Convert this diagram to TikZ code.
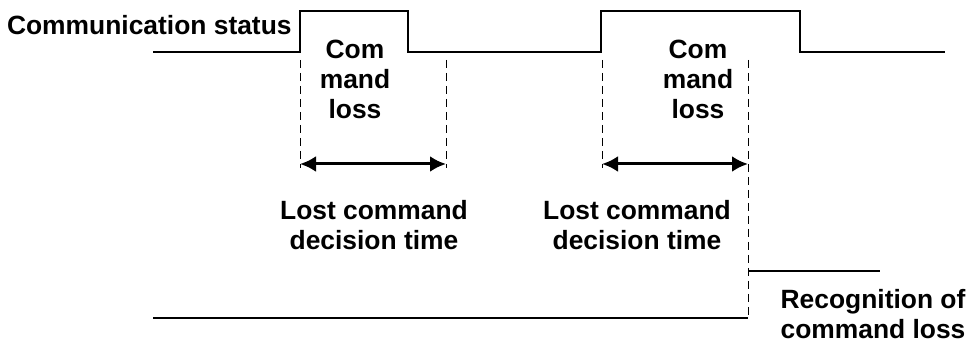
\documentclass[tikz,border=0pt]{standalone}
\usepackage{fontspec}
\setmainfont{Liberation Sans}
\usepackage{tikz}
\usetikzlibrary{arrows.meta}
\tikzstyle{signal}=[line width=1pt]
\tikzstyle{guide}=[line width=.5pt, dash pattern=on 4pt off 2.5pt]
\tikzstyle{timespan}=[line width=1.5pt, {Latex[length=8pt,width=8pt]}-{Latex[length=8pt,width=8pt]}]
\tikzstyle{txt}=[font=\bfseries\fontsize{13.2}{15}\selectfont, align=center, inner sep=0]

\begin{document}
\begin{tikzpicture}[x=.5pt, y=.5pt]
    \useasboundingbox (0,0) rectangle (970,343);

    \draw[signal] (153,291) -- (300,291) -- (300,332) -- (408,332) -- (408,291) -- (601,291) -- (601,332) -- (800,332) -- (800,291) -- (945,291);
    \draw[signal] (153,25) -- (748,25);
    \draw[signal] (748,72) -- (880,72);

    \coordinate (s1) at (300,283);
    \coordinate (e1) at (446,283);
    \coordinate (s2) at (602,283);
    \coordinate (e2) at (748,283);

    \draw[guide] (s1) -- ++(0,-108);
    \draw[guide] (e1) -- ++(0,-108);
    \draw[guide] (s2) -- ++(0,-108);
    \draw[guide] (e2) -- (748,25);

    \draw[timespan] ([yshift=-52pt]s1) -- ([yshift=-52pt]e1);
    \draw[timespan] ([yshift=-52pt]s2) -- ([yshift=-52pt]e2);

    \node[txt, anchor=east] (status) at (292,318) {Communication status};
    \node[txt] (loss1) at (355,264) {Com\\mand\\loss};
    \node[txt] (loss2) at (698,264) {Com\\mand\\loss};
    \node[txt] (time1) at (374,118) {Lost command\\decision time};
    \node[txt] (time2) at (637,118) {Lost command\\decision time};
    \node[txt] (recog) at (873,29) {Recognition of\\command loss};
  \end{tikzpicture}
\end{document}
